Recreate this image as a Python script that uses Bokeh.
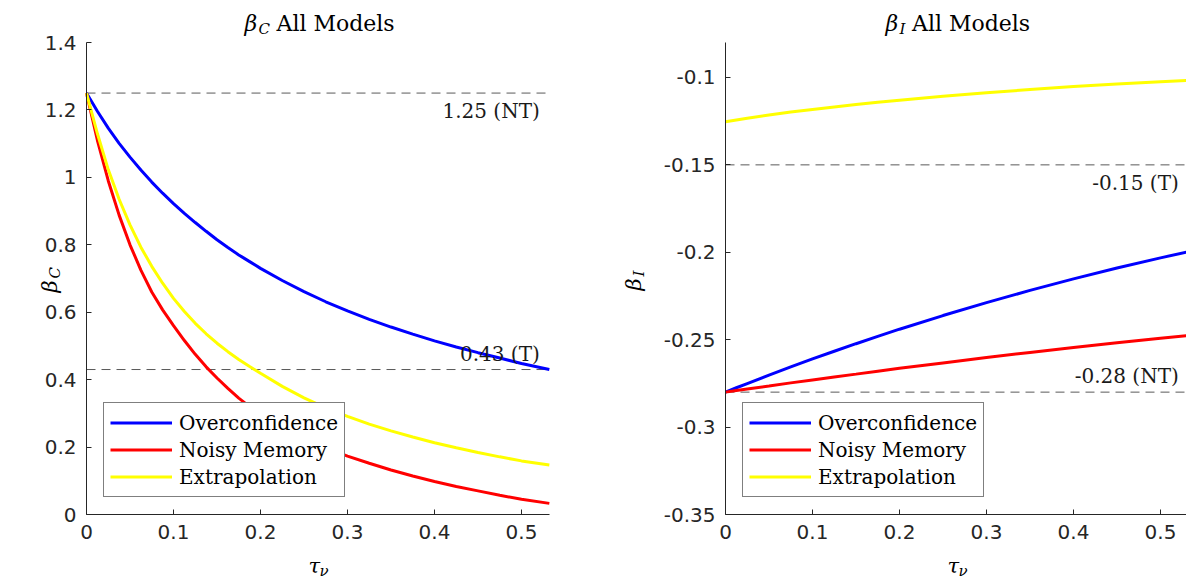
import math
from bokeh.plotting import figure
from bokeh.models import Label, Legend, LegendItem, FixedTicker, Range1d
from bokeh.layouts import row
from bokeh.embed import file_html
from bokeh.resources import INLINE

# ---------------- data ----------------
tau_c = [0, 0.0125, 0.025, 0.0375, 0.05, 0.0625, 0.075, 0.0875, 0.1, 0.1125,
         0.125, 0.1375, 0.15, 0.1625, 0.175, 0.1875, 0.2, 0.225, 0.25, 0.275,
         0.3, 0.325, 0.35, 0.375, 0.4, 0.425, 0.45, 0.475, 0.5, 0.532]
bc_over = [1.250, 1.196, 1.146, 1.101, 1.060, 1.022, 0.986, 0.953, 0.922, 0.893,
           0.866, 0.840, 0.815, 0.792, 0.770, 0.750, 0.730, 0.694, 0.661, 0.631,
           0.604, 0.579, 0.556, 0.535, 0.515, 0.497, 0.480, 0.464, 0.448, 0.430]
bc_noisy = [1.250, 1.110, 0.990, 0.888, 0.800, 0.725, 0.660, 0.607, 0.560, 0.516,
            0.475, 0.438, 0.405, 0.374, 0.345, 0.320, 0.298, 0.259, 0.226, 0.198,
            0.173, 0.152, 0.132, 0.114, 0.098, 0.083, 0.070, 0.057, 0.045, 0.033]
bc_extra = [1.250, 1.130, 1.023, 0.935, 0.859, 0.793, 0.736, 0.686, 0.641, 0.602,
            0.567, 0.536, 0.508, 0.483, 0.460, 0.439, 0.419, 0.380, 0.346, 0.316,
            0.291, 0.268, 0.248, 0.230, 0.213, 0.198, 0.184, 0.171, 0.159, 0.147]

tau_i = [0, 0.0125, 0.025, 0.05, 0.075, 0.1, 0.125, 0.15, 0.175, 0.2,
         0.25, 0.3, 0.35, 0.4, 0.45, 0.5, 0.532]
bi_over = [-0.2800, -0.2775, -0.2751, -0.2703, -0.2656, -0.2610, -0.2566, -0.2523, -0.2481, -0.2440,
           -0.2362, -0.2288, -0.2218, -0.2152, -0.2090, -0.2032, -0.1997]
bi_noisy = [-0.2800, -0.2791, -0.2782, -0.2765, -0.2747, -0.2730, -0.2713, -0.2697, -0.2680, -0.2664,
            -0.2633, -0.2602, -0.2573, -0.2545, -0.2518, -0.2492, -0.2476]
bi_extra = [-0.1253, -0.1243, -0.1233, -0.1215, -0.1198, -0.1183, -0.1169, -0.1155, -0.1142, -0.1130,
            -0.1108, -0.1087, -0.1069, -0.1052, -0.1037, -0.1024, -0.1016]

series_names = ["Overconfidence", "Noisy Memory", "Extrapolation"]
series_colors = ["#0000ff", "#ff0000", "#ffff00"]

ref_c = [1.25, 0.43]
ref_c_text = ["1.25 (NT)", "0.43 (T)"]
ref_i = [-0.15, -0.28]
ref_i_text = ["-0.15 (T)", "-0.28 (NT)"]

x_ticks = [0, 0.1, 0.2, 0.3, 0.4, 0.5]
x_tick_labels = ["0", "0.1", "0.2", "0.3", "0.4", "0.5"]
yc_ticks = [0, 0.2, 0.4, 0.6, 0.8, 1.0, 1.2, 1.4]
yc_tick_labels = ["0", "0.2", "0.4", "0.6", "0.8", "1", "1.2", "1.4"]
yi_ticks = [-0.35, -0.3, -0.25, -0.2, -0.15, -0.1]
yi_tick_labels = ["-0.35", "-0.3", "-0.25", "-0.2", "-0.15", "-0.1"]

SERIF = "DejaVu Serif"
SANS = "DejaVu Sans"
AX = "#262626"

# ---------------- layout (pixels) ----------------
H = 581
AXIS_BOTTOM_PX = 67       # distance of the x axis from the canvas bottom
AXIS_TOP_PX = 42          # distance of the plot-box top from the canvas top
BOX_H = H - AXIS_BOTTOM_PX - AXIS_TOP_PX
X_SCALE = 870.0           # pixels per unit of tau


def make_fig(width, left_px, x_end, y0, y1, xt, xtl, yt, ytl):
    ys = BOX_H / (y1 - y0)
    xr = Range1d(-left_px / X_SCALE, (width - left_px) / X_SCALE)
    yr = Range1d(y0 - AXIS_BOTTOM_PX / ys, y1 + AXIS_TOP_PX / ys)
    p = figure(width=width, height=H, x_range=xr, y_range=yr,
               min_border=0, min_border_left=0, min_border_right=0,
               min_border_top=0, min_border_bottom=0,
               output_backend="svg", toolbar_location=None)
    p.outline_line_color = None
    p.xgrid.visible = False
    p.ygrid.visible = False
    p.background_fill_color = "white"
    p.border_fill_color = "white"
    p.xaxis[0].fixed_location = y0
    p.xaxis[0].bounds = (0, x_end)
    p.yaxis[0].fixed_location = 0
    p.yaxis[0].bounds = (y0, y1)
    for ax, t, tl in [(p.xaxis[0], xt, xtl), (p.yaxis[0], yt, ytl)]:
        ax.ticker = FixedTicker(ticks=t)
        ax.major_label_overrides = {k: v for k, v in zip(t, tl)}
        ax.axis_line_color = AX
        ax.axis_line_width = 1
        ax.major_tick_line_color = AX
        ax.major_tick_in = 5
        ax.major_tick_out = 0
        ax.minor_tick_line_color = None
        ax.major_label_text_font = SANS
        ax.major_label_text_font_size = "20px"
        ax.major_label_text_color = AX
    p.xaxis[0].major_label_standoff = 10
    p.yaxis[0].major_label_standoff = 10
    return p


def add_series(p, x, ys, left_px):
    items = []
    for name, col, y in zip(series_names, series_colors, ys):
        r = p.line(x, y, line_color=col, line_width=3)
        items.append(LegendItem(label=name, renderers=[r]))
    lg = Legend(items=items, location=(left_px + 17, AXIS_BOTTOM_PX + 17),
                glyph_width=62, glyph_height=27,
                label_height=27, spacing=0, padding=6, margin=0, label_standoff=7,
                border_line_color="black", border_line_width=1,
                background_fill_color="white", background_fill_alpha=1.0,
                label_text_font=SERIF, label_text_font_size="20px",
                label_text_color="black")
    p.add_layout(lg)


def add_refs(p, vals, texts, below_flags, x_end, xpos):
    for v, t, below in zip(vals, texts, below_flags):
        p.line([0, x_end], [v, v], line_color="#5a5a5a", line_width=1, line_dash="9 6")
        p.add_layout(Label(x=xpos, y=v, text=t, text_align="right",
                           text_baseline="top" if below else "bottom",
                           y_offset=-6 if below else 4,
                           text_font=SERIF, text_font_size="20px", text_color="#1a1a1a"))


def add_math(p, x, y, base, sub, size, subsize, sub_dx, sub_dy, angle=0.0):
    # symbol plus lowered subscript; screen units from the canvas bottom-left
    p.add_layout(Label(x=x, y=y, x_units="screen", y_units="screen", text=base,
                       text_font=SERIF, text_font_style="italic", text_font_size=size,
                       text_align="left", text_baseline="alphabetic", angle=angle,
                       text_color="black"))
    p.add_layout(Label(x=x + sub_dx, y=y + sub_dy, x_units="screen", y_units="screen", text=sub,
                       text_font=SERIF, text_font_style="italic", text_font_size=subsize,
                       text_align="left", text_baseline="alphabetic", angle=angle,
                       text_color="black"))


def add_text(p, x, y, text, size):
    p.add_layout(Label(x=x, y=y, x_units="screen", y_units="screen", text=text,
                       text_font=SERIF, text_font_size=size, text_align="left",
                       text_baseline="alphabetic", text_color="black"))


# ---------------- left panel ----------------
L1 = 86
XE1 = 0.532
p1 = make_fig(600, L1, XE1, 0, 1.4, x_ticks, x_tick_labels, yc_ticks, yc_tick_labels)
add_refs(p1, ref_c, ref_c_text, [True, False], XE1, 0.521)
add_series(p1, tau_c, [bc_over, bc_noisy, bc_extra], L1)
add_math(p1, 244, 558, "β", "C", "22px", "15px", 14, -5)
add_text(p1, 276, 558, "All Models", "22px")
add_math(p1, 49, 289, "β", "C", "21px", "15px", 5, 14, angle=math.pi / 2)
add_math(p1, 308, 16, "τ", "ν", "21px", "15px", 11, -5)

# ---------------- right panel ----------------
L2 = 125
XE2 = 0.532
p2 = make_fig(586, L2, XE2, -0.35, -0.08, x_ticks, x_tick_labels, yi_ticks, yi_tick_labels)
add_refs(p2, ref_i, ref_i_text, [True, False], XE2, 0.521)
add_series(p2, tau_i, [bi_over, bi_noisy, bi_extra], L2)
add_math(p2, 285, 558, "β", "I", "22px", "15px", 14, -5)
add_text(p2, 311.5, 558, "All Models", "22px")
add_math(p2, 33, 291, "β", "I", "21px", "15px", 5, 14, angle=math.pi / 2)
add_math(p2, 347, 16, "τ", "ν", "21px", "15px", 11, -5)

layout = row(p1, p2, spacing=0)
open("out.html", "w").write(file_html(layout, INLINE))
